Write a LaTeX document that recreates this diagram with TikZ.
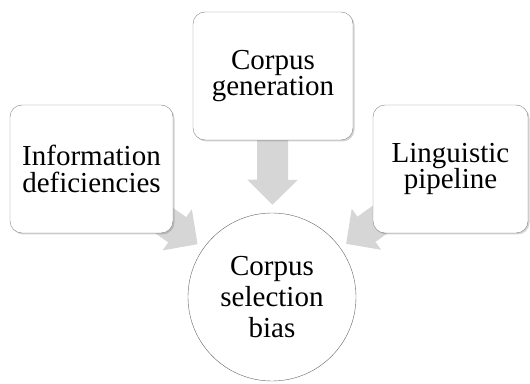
\documentclass[tikz,border=0pt]{standalone}
\usepackage{fontspec}
\setmainfont{Liberation Serif}
\usepackage{tikz}
\definecolor{boxline}{RGB}{135,135,135}
\definecolor{arrowgray}{RGB}{214,214,214}
\usetikzlibrary{arrows.meta, shadows, backgrounds}

\begin{document}
\begin{tikzpicture}[
	factor/.style={draw=boxline, rectangle, rounded corners=12pt, fill=white, align=center, minimum height=128pt, inner sep=0pt, font=\fontsize{29}{26.5}\selectfont, drop shadow={shadow xshift=1.5pt, shadow yshift=-1.5pt, opacity=0.35}},
	flow/.style={line width=31pt, arrowgray, -{Triangle[width=49pt, length=25pt]}}
	]
	\useasboundingbox (0,0) rectangle (530pt,383pt);
	
	\node[draw=black!60, circle, minimum size=168pt, inner sep=0pt, fill=white, align=center, font=\fontsize{29}{31}\selectfont, xshift=272pt, yshift=86pt] (n4) {Corpus\\selection\\bias};
	\node[factor, minimum width=160pt, xshift=273pt, yshift=307pt] (n1) {Corpus\\generation};
	\node[factor, minimum width=163pt, xshift=91.5pt, yshift=214pt] (n2) {Information\\deficiencies};
	\node[factor, minimum width=155pt, xshift=450.5pt, yshift=214pt] (n3) {Linguistic\\pipeline};
	
	\begin{scope}[on background layer]
	\draw[flow, shorten >=8pt] (n1.center) -- (n4);
	\draw[flow, shorten >=7pt] (n2.center) -- (n4);
	\draw[flow, shorten >=7pt] (n3.center) -- (n4);
	\end{scope}
	
\end{tikzpicture}
\end{document}
